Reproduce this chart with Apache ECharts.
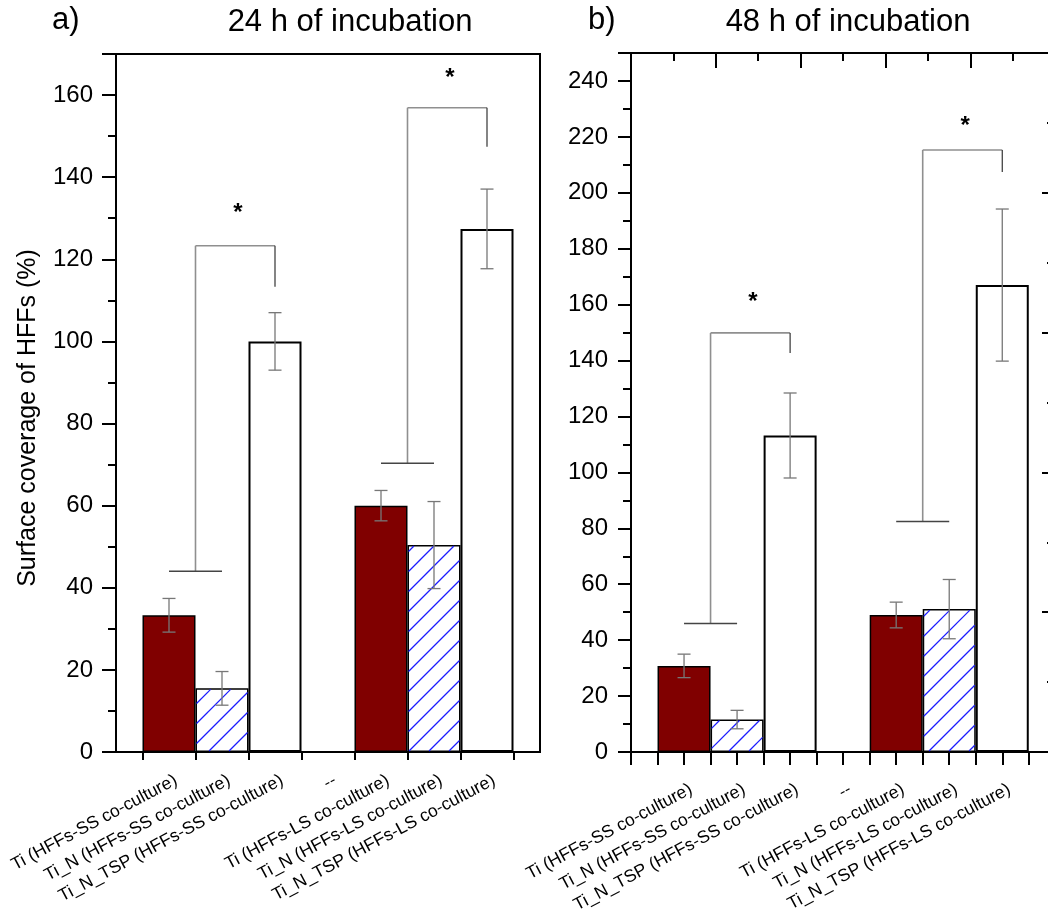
<!DOCTYPE html>
<html>
<head>
<meta charset="utf-8">
<script src="https://cdn.jsdelivr.net/npm/echarts@6/dist/echarts.min.js"></script>
<style>
  html, body { margin: 0; padding: 0; background: #fff; overflow: hidden; }
  #chart { width: 1048px; height: 917px; }
</style>
</head>
<body>
<div id="chart"></div>
<script>
// categories along the x axis (same for both panels)
const categories = [
  "Ti (HFFs-SS co-culture)",
  "Ti_N (HFFs-SS co-culture)",
  "Ti_N_TSP (HFFs-SS co-culture)",
  "--",
  "Ti (HFFs-LS co-culture)",
  "Ti_N (HFFs-LS co-culture)",
  "Ti_N_TSP (HFFs-LS co-culture)"
];

// a) 24 h
const cover24 = [33.3, 15.5, 100.0, null, 60.0, 50.4, 127.4];
const err24 = [4.1, 4.1, 7.0, null, 3.7, 10.6, 9.7];
// b) 48 h
const cover48 = [30.8, 11.6, 113.2, null, 49.0, 51.1, 167.0];
const err48 = [4.2, 3.3, 15.2, null, 4.6, 10.6, 27.2];

// significance brackets (category index of each leg, levels in %)
const bracketFrom = [0.5, 4.5];
const bracketTo = [2, 6];
const bracketBase24 = [44.0, 70.3];
const bracketTop24 = [123.3, 156.9];
const bracketEnd24 = [113.3, 147.4];
const starAt24 = [132.5, 165.4];
const bracketBase48 = [46.0, 82.4];
const bracketTop48 = [149.9, 215.3];
const bracketEnd48 = [142.7, 207.4];
const starAt48 = [162.7, 225.7];

const FONT = '"Liberation Sans", Arial, sans-serif';
const BAR_W = 53;

// bar look per category (Ti = dark red, Ti_N = hatched, Ti_N_TSP = open)
const fills = [
  { color: "#800000", borderColor: "#000", borderWidth: 1.5 },
  { color: "#fff", borderColor: "#000", borderWidth: 1.5 },
  { color: "#fff", borderColor: "#000", borderWidth: 2 }
];
const isHatched = i => i % 4 === 1;

// x positions are in half-category units: category i sits at 2 * i
function barData(values) {
  return values.map((v, i) => v == null ? null : {
    value: [2 * i, v],
    itemStyle: fills[i % 4]
  }).filter(d => d);
}
function hatchData(values) {
  return values.map((v, i) => v == null || !isHatched(i) ? null : [2 * i, v]).filter(d => d);
}
function errData(values, errs) {
  return values.map((v, i) => v == null ? null : [2 * i, v, errs[i]]).filter(d => d);
}
function bracketData(base, top, end, star) {
  return bracketFrom.map((f, k) => [2 * f, 2 * bracketTo[k], base[k], top[k], end[k], star[k]]);
}

function labelFmt(v) {
  if (v % 2 !== 0) return "";
  const i = v / 2;
  return i >= 0 && i < categories.length ? categories[i] : "";
}

// diagonal blue hatching inside a bar
function renderHatch(params, api) {
  const x = api.value(0), v = api.value(1);
  const t = api.coord([x, v]);
  const b = api.coord([x, 0]);
  const x0 = t[0] - BAR_W / 2 + 1, x1 = t[0] + BAR_W / 2 - 1;
  const y0 = t[1] + 1, y1 = b[1] - 1;
  const step = 20;
  const children = [];
  for (let c = Math.ceil((x0 + y0) / step) * step; c <= x1 + y1; c += step) {
    const ya = Math.max(y0, c - x1), yb = Math.min(y1, c - x0);
    if (yb <= ya) continue;
    children.push({
      type: "line",
      shape: { x1: c - ya, y1: ya, x2: c - yb, y2: yb },
      style: { stroke: "#1c1cff", lineWidth: 1.25 }
    });
  }
  return { type: "group", children: children };
}

function renderErr(params, api) {
  const x = api.value(0), v = api.value(1), e = api.value(2);
  const a = api.coord([x, v + e]);
  const b = api.coord([x, v - e]);
  const w = 6.5;
  const st = { stroke: "#777", lineWidth: 1.3 };
  return {
    type: "group",
    children: [
      { type: "line", shape: { x1: a[0], y1: a[1], x2: b[0], y2: b[1] }, style: st },
      { type: "line", shape: { x1: a[0] - w, y1: a[1], x2: a[0] + w, y2: a[1] }, style: st },
      { type: "line", shape: { x1: b[0] - w, y1: b[1], x2: b[0] + w, y2: b[1] }, style: st }
    ]
  };
}

function renderBracket(params, api) {
  const l = api.value(0), r = api.value(1);
  const base = api.value(2), top = api.value(3), end = api.value(4), star = api.value(5);
  const pB = api.coord([l, base]);
  const pT = api.coord([l, top]);
  const capL = api.coord([l - 1, base]);
  const capR = api.coord([l + 1, base]);
  const qT = api.coord([r, top]);
  const qE = api.coord([r, end]);
  const s = api.coord([(l + r) / 2 + 0.1, star]);
  const gray = { stroke: "#8f8f8f", lineWidth: 1.6 };
  return {
    type: "group",
    children: [
      { type: "line", shape: { x1: pB[0], y1: pB[1], x2: pT[0], y2: pT[1] }, style: gray },
      { type: "line", shape: { x1: pT[0], y1: pT[1], x2: qT[0], y2: qT[1] }, style: gray },
      { type: "line", shape: { x1: capL[0], y1: capL[1], x2: capR[0], y2: capR[1] }, style: { stroke: "#444", lineWidth: 1.5 } },
      { type: "line", shape: { x1: qT[0], y1: qT[1], x2: qE[0], y2: qE[1] }, style: { stroke: "#333", lineWidth: 1.2 } },
      {
        type: "text",
        style: {
          text: "*", x: s[0], y: s[1] + 5,
          font: "bold 24px " + FONT, fill: "#000",
          textAlign: "center", textVerticalAlign: "middle"
        }
      }
    ]
  };
}

const black = { color: "#000", width: 2 };
const tickLabel = { color: "#000", fontSize: 24, fontFamily: FONT };
const catLabel = { color: "#000", fontSize: 17.6, fontFamily: FONT, rotate: 28, padding: [0, -8, 0, 0], formatter: labelFmt };
const noLabel = { show: false };
const lineOn = { show: true, onZero: false, lineStyle: black };
const lineOff = { show: false, onZero: false };

const chart = echarts.init(document.getElementById("chart"), null, { renderer: "canvas" });

chart.setOption({
  backgroundColor: "#fff",
  animation: false,
  grid: [
    { left: 116, top: 54, width: 424, height: 698, show: true, borderColor: "#000", borderWidth: 2, outerBoundsMode: "none", containLabel: false },
    { left: 631, top: 53, width: 419, height: 699, show: true, borderColor: "#000", borderWidth: 2, outerBoundsMode: "none", containLabel: false }
  ],
  xAxis: [
    {
      gridIndex: 0, type: "value", position: "bottom", min: -2, max: 14, interval: 2,
      axisLine: lineOn,
      axisTick: { show: false },
      minorTick: { show: true, splitNumber: 2, length: 8, lineStyle: black },
      axisLabel: Object.assign({ margin: 31 }, catLabel),
      splitLine: { show: false }, minorSplitLine: { show: false }
    },
    {
      gridIndex: 1, type: "value", position: "bottom", min: -2, max: 13.8, interval: 1,
      axisLine: lineOn,
      axisTick: { show: true, length: 13, lineStyle: black },
      axisLabel: Object.assign({ margin: 40 }, catLabel),
      splitLine: { show: false }
    },
    {
      gridIndex: 1, type: "value", position: "top", min: 0, max: 4.94, interval: 1,
      axisLine: lineOff,
      axisTick: { show: true, inside: true, length: 15, lineStyle: black },
      axisLabel: noLabel, splitLine: { show: false }
    },
    {
      gridIndex: 1, type: "value", position: "top", min: 0, max: 4.94, interval: 0.5,
      axisLine: lineOff,
      axisTick: { show: true, inside: true, length: 8, lineStyle: black },
      axisLabel: noLabel, splitLine: { show: false }
    }
  ],
  yAxis: [
    {
      gridIndex: 0, type: "value", position: "left", offset: 0, min: 0, max: 170, interval: 20,
      axisLine: lineOn,
      axisTick: { show: true, length: 14, lineStyle: black },
      axisLabel: Object.assign({ margin: 23, formatter: v => (v % 20 === 0 ? String(v) : "") }, tickLabel),
      splitLine: { show: false }
    },
    {
      gridIndex: 0, type: "value", position: "left", offset: 0, min: 0, max: 170, interval: 10,
      axisLine: lineOff,
      axisTick: { show: true, length: 8, lineStyle: black },
      axisLabel: noLabel, splitLine: { show: false }
    },
    {
      gridIndex: 1, type: "value", position: "left", offset: 0, min: 0, max: 250, interval: 20,
      axisLine: lineOn,
      axisTick: { show: true, length: 13, lineStyle: black },
      axisLabel: Object.assign({ margin: 23, formatter: v => (v % 20 === 0 ? String(v) : "") }, tickLabel),
      splitLine: { show: false }
    },
    {
      gridIndex: 1, type: "value", position: "left", offset: 0, min: 0, max: 250, interval: 10,
      axisLine: lineOff,
      axisTick: { show: true, length: 8, lineStyle: black },
      axisLabel: noLabel, splitLine: { show: false }
    },
    {
      gridIndex: 1, type: "value", position: "right", offset: 0, min: 0, max: 250, interval: 50,
      axisLine: lineOff,
      axisTick: { show: true, inside: true, length: 8, lineStyle: black },
      axisLabel: noLabel, splitLine: { show: false }
    },
    {
      gridIndex: 1, type: "value", position: "right", offset: 0, min: 0, max: 250, interval: 25,
      axisLine: lineOff,
      axisTick: { show: true, inside: true, length: 3, lineStyle: black },
      axisLabel: noLabel, splitLine: { show: false }
    }
  ],
  series: [
    { type: "bar", xAxisIndex: 0, yAxisIndex: 0, barWidth: BAR_W, data: barData(cover24), z: 2 },
    { type: "bar", xAxisIndex: 1, yAxisIndex: 2, barWidth: BAR_W, data: barData(cover48), z: 2 },
    { type: "custom", xAxisIndex: 0, yAxisIndex: 0, renderItem: renderHatch, data: hatchData(cover24), z: 3, encode: { x: 0, y: 1 } },
    { type: "custom", xAxisIndex: 1, yAxisIndex: 2, renderItem: renderHatch, data: hatchData(cover48), z: 3, encode: { x: 0, y: 1 } },
    { type: "custom", xAxisIndex: 0, yAxisIndex: 0, renderItem: renderErr, data: errData(cover24, err24), z: 4, encode: { x: 0, y: 1 } },
    { type: "custom", xAxisIndex: 1, yAxisIndex: 2, renderItem: renderErr, data: errData(cover48, err48), z: 4, encode: { x: 0, y: 1 } },
    { type: "custom", xAxisIndex: 0, yAxisIndex: 0, renderItem: renderBracket, data: bracketData(bracketBase24, bracketTop24, bracketEnd24, starAt24), z: 5, encode: { x: 0, y: 2 } },
    { type: "custom", xAxisIndex: 1, yAxisIndex: 2, renderItem: renderBracket, data: bracketData(bracketBase48, bracketTop48, bracketEnd48, starAt48), z: 5, encode: { x: 0, y: 2 } }
  ],
  graphic: [
    { type: "text", left: 52, top: 5, style: { text: "a)", font: "31px " + FONT, fill: "#000" } },
    { type: "text", x: 350, y: 22, style: { text: "24 h of incubation", font: "31px " + FONT, fill: "#000", textAlign: "center", textVerticalAlign: "middle" } },
    { type: "text", left: 588, top: 5, style: { text: "b)", font: "31px " + FONT, fill: "#000" } },
    { type: "text", x: 848, y: 22, style: { text: "48 h of incubation", font: "31px " + FONT, fill: "#000", textAlign: "center", textVerticalAlign: "middle" } },
    { type: "text", x: 28, y: 418, rotation: Math.PI / 2, style: { text: "Surface coverage of HFFs (%)", font: "25px " + FONT, fill: "#000", textAlign: "center", textVerticalAlign: "middle" } }
  ]
});
</script>
</body>
</html>
